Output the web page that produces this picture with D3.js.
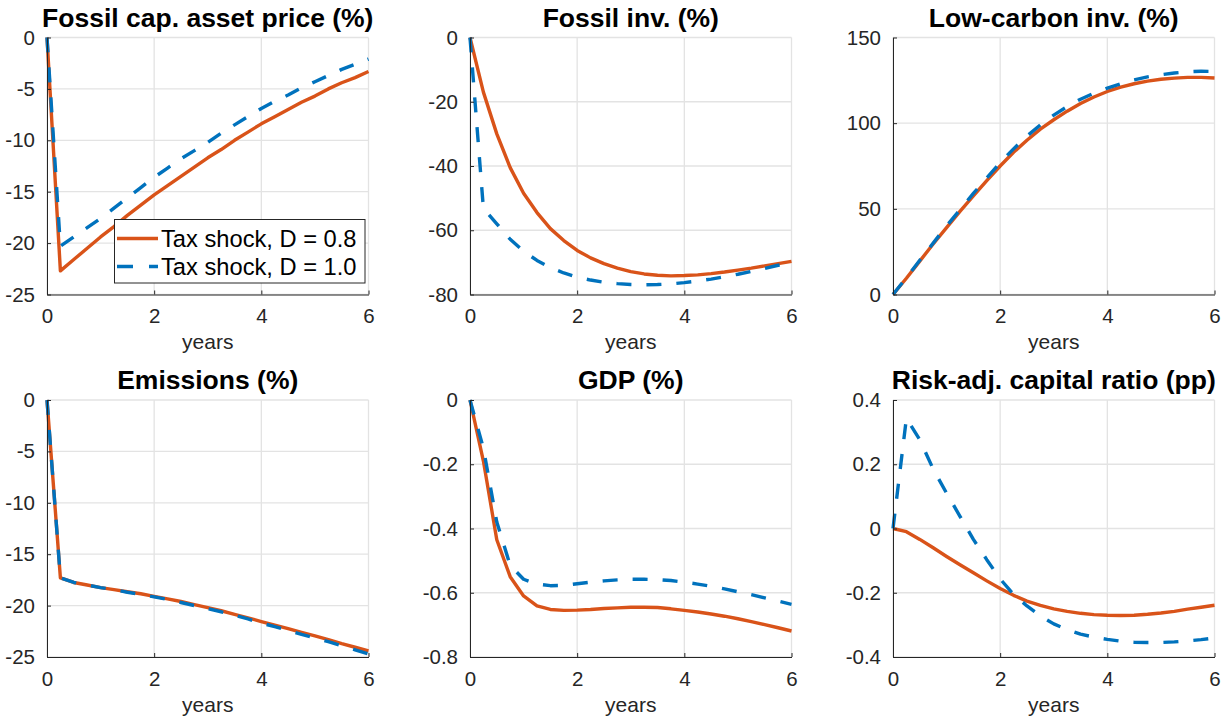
<!DOCTYPE html>
<html>
<head>
<meta charset="utf-8">
<script src="https://cdn.jsdelivr.net/npm/d3@7"></script>
<style>
  html, body { margin: 0; padding: 0; background: #fff; }
  svg { display: block; }
  text { font-family: "Liberation Sans", Arial, Helvetica, sans-serif; }
</style>
</head>
<body>
<svg id="chart" width="1229" height="722"></svg>
<script>
// ---------------- data ----------------
const years = [0, 0.25, 0.5, 0.75, 1, 1.25, 1.5, 1.75, 2, 2.25, 2.5, 2.75, 3,
               3.25, 3.5, 3.75, 4, 4.25, 4.5, 4.75, 5, 5.25, 5.5, 5.75, 6];

const seriesNames = ["Tax shock, D = 0.8", "Tax shock, D = 1.0"];

const assetPriceD08 = [0, -22.7, -21.6, -20.5, -19.4, -18.4, -17.3, -16.3, -15.3, -14.4, -13.5, -12.6, -11.7,
                       -10.9, -10.0, -9.2, -8.4, -7.7, -7.0, -6.3, -5.7, -5.0, -4.4, -3.9, -3.3];
const assetPriceD10 = [0, -20.3, -19.4, -18.5, -17.6, -16.6, -15.6, -14.6, -13.6, -12.7, -11.8, -11.0, -10.2,
                       -9.3, -8.5, -7.7, -6.9, -6.2, -5.6, -4.9, -4.3, -3.7, -3.1, -2.6, -2.1];

const fossilInvD08 = [0, -17, -30, -40.5, -48.5, -54.5, -59.5, -63.2, -66.3, -68.6, -70.4, -71.8, -72.9,
                      -73.6, -74.0, -74.2, -74.1, -73.9, -73.5, -73.0, -72.4, -71.8, -71.1, -70.4, -69.7];
const fossilInvD10 = [0, -53.2, -58.0, -62.8, -66.5, -69.4, -71.6, -73.3, -74.6, -75.5, -76.2, -76.6, -76.9,
                      -77.0, -76.9, -76.7, -76.3, -75.8, -75.2, -74.5, -73.7, -72.8, -71.9, -70.9, -69.8];

const lowCarbonInvD08 = [0, 9.5, 19.5, 29.5, 39, 48.5, 57.5, 66.5, 75, 83, 90, 96.5, 102,
                         107, 111.5, 115.3, 118.5, 121, 123, 124.5, 125.6, 126.3, 126.7, 126.7, 126.4];
const lowCarbonInvD10 = [0, 9.8, 20, 30, 40, 49.5, 59, 68, 77, 85, 92.5, 99, 104.7,
                         109.7, 114, 117.5, 120.5, 123, 125.3, 127, 128.3, 129.3, 130, 130.3, 130.2];

const emissionsD08 = [0, -17.3, -17.75, -18.0, -18.25, -18.45, -18.65, -18.85, -19.1, -19.35, -19.6, -19.9, -20.2,
                      -20.5, -20.85, -21.2, -21.55, -21.9, -22.25, -22.6, -22.95, -23.3, -23.7, -24.05, -24.4];
const emissionsD10 = [0, -17.3, -17.75, -18.0, -18.25, -18.45, -18.7, -18.9, -19.15, -19.4, -19.7, -20.0, -20.3,
                      -20.6, -20.95, -21.3, -21.7, -22.05, -22.4, -22.8, -23.15, -23.5, -23.9, -24.3, -24.7];

const gdpD08 = [0, -0.19, -0.435, -0.55, -0.61, -0.641, -0.652, -0.655, -0.654, -0.652, -0.649, -0.647, -0.645,
                -0.645, -0.646, -0.65, -0.655, -0.66, -0.666, -0.673, -0.681, -0.69, -0.699, -0.709, -0.719];
const gdpD10 = [0, -0.15, -0.38, -0.515, -0.558, -0.573, -0.578, -0.577, -0.572, -0.567, -0.563, -0.56, -0.558,
                -0.558, -0.559, -0.562, -0.567, -0.573, -0.58, -0.588, -0.597, -0.606, -0.616, -0.626, -0.636];

const capRatioD08 = [0, -0.01, -0.034, -0.06, -0.087, -0.113, -0.138, -0.163, -0.187, -0.208, -0.226, -0.239, -0.25,
                     -0.258, -0.264, -0.268, -0.27, -0.271, -0.27, -0.267, -0.263, -0.258, -0.251, -0.245, -0.239];
const capRatioD10 = [0, 0.343, 0.276, 0.185, 0.11, 0.038, -0.034, -0.097, -0.157, -0.205, -0.241, -0.272, -0.297,
                     -0.315, -0.329, -0.338, -0.345, -0.351, -0.354, -0.355, -0.355, -0.353, -0.35, -0.346, -0.341];

const xTicks = [0, 2, 4, 6];

const panelTitles = ["Fossil cap. asset price (%)", "Fossil inv. (%)", "Low-carbon inv. (%)",
                     "Emissions (%)", "GDP (%)", "Risk-adj. capital ratio (pp)"];
const yDomains = [[-25, 0], [-80, 0], [0, 150], [-25, 0], [-0.8, 0], [-0.4, 0.4]];
const yTickValues = [
  [-25, -20, -15, -10, -5, 0],
  [-80, -60, -40, -20, 0],
  [0, 50, 100, 150],
  [-25, -20, -15, -10, -5, 0],
  [-0.8, -0.6, -0.4, -0.2, 0],
  [-0.4, -0.2, 0, 0.2, 0.4]
];
const panelSeries = [
  [assetPriceD08, assetPriceD10],
  [fossilInvD08, fossilInvD10],
  [lowCarbonInvD08, lowCarbonInvD10],
  [emissionsD08, emissionsD10],
  [gdpD08, gdpD10],
  [capRatioD08, capRatioD10]
];

// ---------------- layout / style ----------------
const colLefts = [47, 470, 893];
const rowTops = [37.5, 400];
const plotW = 321.5, plotH = 257;
const colors = ["#D95319", "#0072BD"];
const dashes = [null, "15,15"];
const axisColor = "#262626";
const gridColor = "#e3e3e3";

const svg = d3.select("#chart");
svg.append("rect").attr("width", 1229).attr("height", 722).attr("fill", "#fff");

function fmt(v) {
  if (Math.abs(v) < 1e-9) return "0";
  return String(+v.toFixed(2));
}

panelTitles.forEach((title, i) => {
  const left = colLefts[i % 3], top = rowTops[Math.floor(i / 3)];
  const g = svg.append("g").attr("transform", `translate(${left},${top})`);
  const x = d3.scaleLinear().domain([0, 6]).range([0, plotW]);
  const y = d3.scaleLinear().domain(yDomains[i]).range([plotH, 0]);

  // grid
  g.append("g").selectAll("line.vg").data(xTicks).join("line")
    .attr("x1", d => x(d)).attr("x2", d => x(d)).attr("y1", 0).attr("y2", plotH)
    .attr("stroke", gridColor).attr("stroke-width", 1.3);
  g.append("g").selectAll("line.hg").data(yTickValues[i]).join("line")
    .attr("x1", 0).attr("x2", plotW).attr("y1", d => y(d)).attr("y2", d => y(d))
    .attr("stroke", gridColor).attr("stroke-width", 1.3);

  // lines
  const line = d3.line().x((d, k) => x(years[k])).y(d => y(d));
  panelSeries[i].forEach((s, k) => {
    const p = g.append("path").datum(s)
      .attr("d", line).attr("fill", "none")
      .attr("stroke", colors[k]).attr("stroke-width", 3.4)
      .attr("stroke-linejoin", "round");
    if (dashes[k]) p.attr("stroke-dasharray", dashes[k]);
  });

  // axes
  const xAxis = d3.axisBottom(x).tickValues(xTicks).tickFormat(fmt).tickSizeInner(-4).tickSizeOuter(0).tickPadding(14);
  const yAxis = d3.axisLeft(y).tickValues(yTickValues[i]).tickFormat(fmt).tickSizeInner(-4).tickSizeOuter(0).tickPadding(12);
  const gx = g.append("g").attr("transform", `translate(0,${plotH})`).call(xAxis);
  const gy = g.append("g").call(yAxis);
  [gx, gy].forEach(ax => {
    ax.select(".domain").attr("stroke", axisColor).attr("stroke-width", 1);
    ax.selectAll(".tick line").attr("stroke", axisColor);
    ax.selectAll(".tick text").attr("fill", axisColor).attr("font-size", 20.5)
      .attr("font-family", "Liberation Sans, Arial, sans-serif");
  });

  // x label
  g.append("text").attr("x", plotW / 2).attr("y", plotH + 54.5)
    .attr("text-anchor", "middle").attr("font-size", 21).attr("fill", axisColor)
    .text("years");

  // title
  g.append("text").attr("x", plotW / 2).attr("y", -11)
    .attr("text-anchor", "middle").attr("font-size", 26.5).attr("font-weight", "bold")
    .attr("fill", "#000").text(title);

  // legend in first panel
  if (i === 0) {
    const lg = svg.append("g");
    lg.append("rect").attr("x", 114.5).attr("y", 219.5).attr("width", 250.5).attr("height", 63.5)
      .attr("fill", "#fff").attr("stroke", axisColor).attr("stroke-width", 1);
    const rowsY = [238.5, 266.5];
    seriesNames.forEach((name, k) => {
      const l = lg.append("line").attr("x1", 117).attr("x2", 158)
        .attr("y1", rowsY[k]).attr("y2", rowsY[k])
        .attr("stroke", colors[k]).attr("stroke-width", 3.4);
      if (dashes[k]) l.attr("stroke-dasharray", "16,16");
      lg.append("text").attr("x", 161).attr("y", rowsY[k]).attr("dy", "0.36em")
        .attr("font-size", 23.7).attr("fill", "#000").text(name);
    });
  }
});
</script>
</body>
</html>
